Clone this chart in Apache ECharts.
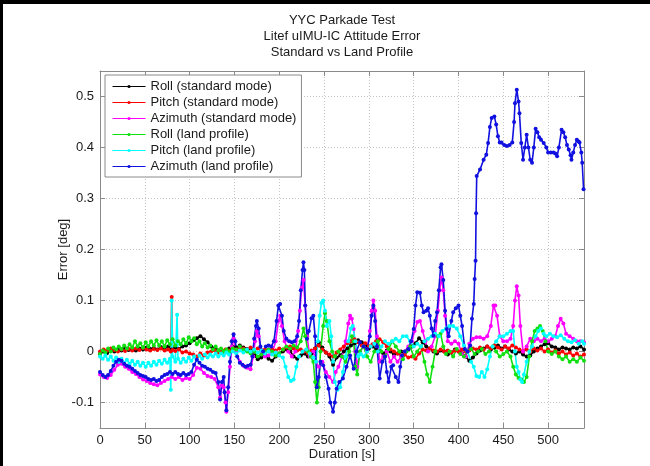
<!DOCTYPE html>
<html><head><meta charset="utf-8">
<script src="https://cdn.jsdelivr.net/npm/echarts@6/dist/echarts.min.js"></script>
<style>html,body{margin:0;padding:0;background:#fff}#c{width:650px;height:466px}</style>
</head><body><div id="c"></div><script>
const titleLines = ['YYC Parkade Test', 'Litef uIMU-IC Attitude Error', 'Standard vs Land Profile'];
const xName = 'Duration [s]';
const yName = 'Error [deg]';
const seriesNames = ['Roll (standard mode)', 'Pitch (standard mode)', 'Azimuth (standard mode)', 'Roll (land profile)', 'Pitch (land profile)', 'Azimuth (land profile)'];
const seriesColors = ['#000000', '#ff0000', '#ff00ff', '#10e010', '#00ffff', '#1010e0'];

const rollStd = [[0,-0.005],[4,0.0],[8,-0.003],[12,0.002],[16,0.0],[20,0.004],[24,0.002],[28,0.006],[32,0.003],[36,0.005],[40,0.002],[44,0.006],[48,0.004],[52,0.008],[56,0.005],[60,0.007],[64,0.004],[68,0.009],[72,0.006],[76,0.01],[80,0.004],[84,0.008],[88,0.005],[92,0.01],[96,0.012],[100,0.016],[104,0.022],[108,0.026],[112,0.03],[116,0.024],[120,0.018],[124,0.01],[128,0.006],[132,0.002],[136,-0.002],[140,0.003],[144,0.006],[148,0.01],[152,0.008],[156,0.012],[160,0.008],[164,0.005],[168,0.002],[172,-0.008],[176,-0.015],[180,-0.012],[184,-0.006],[188,-0.014],[192,-0.018],[196,-0.01],[200,-0.004],[204,0.0],[208,0.004],[212,0.002],[216,-0.01],[220,-0.014],[224,-0.008],[228,-0.004],[232,-0.01],[236,-0.004],[240,0.006],[244,0.018],[248,0.008],[252,-0.002],[256,-0.01],[260,-0.026],[264,-0.012],[268,-0.008],[272,0.0],[276,0.006],[280,0.012],[284,0.016],[288,0.022],[292,0.018],[296,0.012],[300,0.006],[304,0.01],[308,0.004],[312,0.0],[316,-0.004],[320,0.002],[324,0.0],[328,-0.006],[332,-0.004],[336,0.0],[340,-0.002],[344,0.004],[348,0.01],[352,0.016],[356,0.026],[360,0.018],[364,0.01],[368,0.006],[372,0.0],[376,-0.004],[380,0.002],[384,0.0],[388,-0.006],[392,-0.002],[396,0.004],[400,0.0],[404,-0.004],[408,-0.01],[412,-0.018],[416,-0.012],[420,-0.004],[424,0.002],[428,0.006],[432,0.01],[436,0.004],[440,0.008],[444,0.012],[448,0.006],[452,0.01],[456,0.004],[460,0.0],[464,-0.004],[468,0.0],[472,-0.006],[476,-0.01],[480,-0.008],[484,0.0],[488,0.006],[492,0.01],[496,0.014],[500,0.016],[504,0.01],[508,0.008],[512,0.004],[516,0.008],[520,0.006],[524,0.004],[528,0.008],[532,0.006],[536,0.01],[540,0.004]];

const pitchStd = [[0,0.0],[4,0.004],[8,0.002],[12,0.006],[16,0.003],[20,0.0],[24,0.004],[28,0.001],[32,0.005],[36,0.002],[40,0.006],[44,0.003],[48,0.007],[52,0.004],[56,0.002],[60,0.005],[64,0.003],[68,0.006],[72,0.002],[76,0.004],[79,0.0],[80,0.107],[81,0.003],[84,0.001],[88,0.004],[92,-0.002],[96,0.0],[100,-0.004],[104,-0.006],[108,-0.01],[112,-0.004],[116,-0.008],[120,-0.002],[124,0.0],[128,0.002],[132,-0.002],[136,0.0],[140,0.004],[144,0.002],[148,0.006],[152,0.004],[156,0.008],[160,0.006],[164,0.004],[168,0.008],[172,0.004],[176,0.006],[180,0.002],[184,0.004],[188,0.0],[192,0.004],[196,0.002],[200,0.006],[204,0.004],[208,0.008],[212,0.01],[216,0.006],[220,0.002],[224,0.004],[228,0.0],[232,-0.004],[236,0.002],[240,0.006],[244,0.012],[248,0.004],[252,-0.002],[256,-0.006],[260,-0.01],[264,-0.002],[268,0.004],[272,0.01],[276,0.016],[280,0.02],[284,0.024],[288,0.018],[292,0.012],[296,0.016],[300,0.01],[304,0.014],[308,0.02],[312,0.024],[316,0.018],[320,0.01],[324,0.004],[328,0.0],[332,-0.004],[336,-0.008],[340,-0.006],[344,-0.012],[348,-0.01],[352,-0.014],[356,-0.004],[360,0.004],[364,0.002],[368,0.006],[372,0.002],[376,0.0],[380,0.004],[384,0.0],[388,0.002],[392,-0.002],[396,0.002],[400,0.0],[404,0.004],[408,0.0],[412,0.002],[416,0.006],[420,0.004],[424,0.008],[428,0.004],[432,0.01],[436,0.006],[440,0.012],[444,0.008],[448,0.004],[452,0.01],[456,0.006],[460,0.012],[464,0.008],[468,0.004],[472,0.0],[476,0.004],[480,0.0],[484,0.006],[488,0.002],[492,0.006],[496,0.0],[500,0.004],[504,-0.002],[508,0.002],[512,-0.004],[516,0.0],[520,-0.006],[524,-0.002],[528,-0.008],[532,-0.004],[536,-0.01],[540,-0.006]];

const azimuthStd = [[0,-0.045],[4,-0.05],[8,-0.052],[12,-0.046],[16,-0.036],[20,-0.026],[24,-0.024],[28,-0.03],[32,-0.034],[36,-0.04],[40,-0.044],[44,-0.05],[48,-0.055],[52,-0.058],[56,-0.062],[60,-0.064],[64,-0.066],[68,-0.062],[72,-0.058],[76,-0.054],[80,-0.05],[84,-0.054],[88,-0.05],[92,-0.056],[96,-0.052],[100,-0.054],[104,-0.046],[108,-0.032],[112,-0.034],[116,-0.042],[120,-0.048],[124,-0.05],[128,-0.054],[132,-0.07],[134,-0.09],[136,-0.066],[138,-0.07],[140,-0.1],[141,-0.118],[143,-0.08],[145,-0.03],[147,0.01],[149,0.025],[152,0.0],[156,-0.02],[160,-0.028],[164,-0.032],[168,-0.035],[171,-0.01],[173,0.02],[175,0.04],[177,0.03],[180,-0.005],[184,-0.01],[188,-0.008],[192,-0.004],[196,0.02],[199,0.06],[201,0.07],[203,0.05],[206,0.02],[210,0.0],[214,-0.01],[218,0.0],[221,0.04],[223,0.08],[225,0.125],[227,0.14],[229,0.09],[231,0.03],[234,-0.01],[238,0.0],[241,-0.02],[244,-0.03],[248,-0.02],[252,-0.04],[256,-0.05],[260,-0.06],[263,-0.04],[266,-0.03],[270,-0.01],[274,0.02],[277,0.055],[279,0.07],[281,0.064],[283,0.044],[285,0.0],[287,-0.03],[290,0.0],[294,0.01],[298,0.0],[301,0.04],[303,0.08],[305,0.1],[307,0.08],[309,0.03],[312,-0.02],[316,-0.01],[320,0.0],[324,-0.02],[328,-0.01],[332,-0.02],[336,-0.01],[340,0.0],[344,0.01],[348,0.02],[351,0.04],[354,0.058],[357,0.06],[360,0.04],[363,0.02],[366,0.0],[370,0.01],[374,0.03],[377,0.08],[379,0.12],[381,0.145],[383,0.12],[385,0.07],[388,0.02],[392,0.015],[396,0.02],[400,0.015],[404,-0.005],[408,-0.01],[412,0.015],[416,0.025],[420,0.028],[424,0.028],[428,0.025],[432,0.03],[436,0.05],[439,0.09],[441,0.09],[443,0.07],[446,0.03],[450,0.02],[454,0.02],[458,0.025],[461,0.05],[463,0.1],[465,0.128],[467,0.11],[469,0.05],[472,0.0],[476,0.01],[480,0.025],[484,0.02],[488,0.025],[492,0.02],[496,0.025],[500,0.02],[504,0.025],[508,0.03],[511,0.05],[514,0.064],[517,0.055],[520,0.035],[524,0.03],[528,0.025],[532,0.02],[536,0.02],[540,0.018]];

const rollLand = [[0,-0.005],[3,0.002],[6,-0.002],[9,0.006],[12,0.0],[15,0.008],[18,0.004],[21,0.01],[24,0.005],[27,0.012],[30,0.006],[33,0.014],[36,0.008],[39,0.02],[42,0.01],[45,0.016],[48,0.008],[51,0.018],[54,0.01],[57,0.02],[60,0.012],[63,0.022],[66,0.012],[69,0.02],[72,0.01],[75,0.022],[78,0.014],[81,0.024],[84,0.012],[87,0.02],[90,0.014],[93,0.024],[96,0.016],[99,0.028],[102,0.02],[105,0.026],[108,0.014],[111,0.02],[114,0.01],[117,0.016],[120,0.008],[123,0.012],[126,0.004],[129,0.01],[132,0.002],[135,0.006],[138,0.0],[141,0.004],[144,0.0],[148,0.006],[152,0.004],[156,0.01],[160,0.004],[164,0.0],[168,-0.004],[172,0.0],[176,-0.01],[180,-0.006],[184,0.0],[188,0.004],[192,0.0],[196,-0.008],[200,-0.004],[204,0.004],[208,0.01],[212,0.006],[216,0.012],[220,0.008],[224,0.02],[227,0.045],[229,0.03],[232,0.0],[235,-0.01],[238,-0.02],[240,-0.06],[242,-0.1],[244,-0.07],[246,0.0],[249,0.05],[251,0.075],[253,0.06],[256,0.02],[259,0.0],[262,-0.01],[266,0.0],[270,-0.01],[274,-0.02],[278,0.0],[281,0.03],[283,0.02],[285,-0.03],[287,-0.045],[290,0.0],[294,0.01],[298,-0.01],[302,-0.02],[306,0.0],[310,0.02],[314,0.0],[318,-0.01],[322,0.005],[326,0.02],[330,0.01],[334,0.0],[338,-0.015],[342,0.0],[346,0.01],[350,-0.01],[354,0.0],[358,0.01],[362,-0.02],[365,-0.045],[368,-0.06],[371,-0.03],[374,0.0],[377,0.03],[380,0.035],[383,0.01],[386,-0.005],[390,0.0],[394,-0.01],[398,0.005],[402,-0.005],[406,-0.01],[410,0.0],[414,0.005],[418,-0.005],[422,0.0],[426,0.005],[430,-0.005],[434,0.0],[438,0.01],[442,0.0],[446,-0.01],[450,-0.005],[454,0.0],[458,-0.01],[461,-0.03],[464,-0.045],[467,-0.052],[470,-0.055],[473,-0.06],[476,-0.05],[479,-0.01],[482,0.02],[485,0.04],[488,0.045],[491,0.05],[494,0.04],[497,0.02],[500,0.0],[504,-0.005],[508,0.0],[512,-0.01],[516,-0.015],[520,-0.01],[524,-0.02],[528,-0.015],[532,-0.02],[536,-0.012],[540,-0.018]];

const pitchLand = [[0,-0.01],[3,-0.014],[6,-0.008],[9,-0.016],[12,-0.01],[15,-0.018],[18,-0.012],[21,-0.02],[24,-0.014],[27,-0.022],[30,-0.016],[33,-0.024],[36,-0.018],[39,-0.026],[42,-0.02],[45,-0.028],[48,-0.022],[51,-0.03],[54,-0.022],[57,-0.028],[60,-0.02],[63,-0.026],[66,-0.018],[69,-0.024],[72,-0.016],[75,-0.022],[78,-0.014],[79,-0.075],[80,0.1],[81,-0.01],[84,-0.02],[86,0.072],[87,-0.014],[90,-0.022],[93,-0.014],[96,-0.02],[99,-0.012],[102,-0.018],[105,-0.01],[108,-0.016],[111,-0.008],[114,-0.014],[117,-0.006],[120,-0.012],[123,-0.006],[126,-0.01],[129,-0.004],[132,-0.01],[135,-0.004],[138,-0.008],[141,-0.002],[144,-0.006],[148,0.0],[152,-0.004],[156,0.002],[160,-0.002],[164,0.004],[168,0.0],[172,0.004],[176,-0.002],[180,0.002],[184,-0.004],[188,0.0],[192,-0.006],[196,-0.002],[200,-0.008],[204,-0.012],[207,-0.03],[210,-0.05],[213,-0.058],[216,-0.055],[219,-0.03],[222,-0.01],[226,0.0],[230,0.004],[234,-0.004],[238,-0.012],[241,-0.02],[243,0.02],[245,0.07],[247,0.095],[249,0.1],[251,0.08],[253,0.05],[256,0.06],[258,0.03],[260,-0.02],[262,-0.06],[265,-0.075],[268,-0.07],[271,-0.04],[274,-0.01],[277,0.02],[280,0.045],[282,0.05],[285,0.02],[288,-0.01],[291,-0.005],[294,-0.01],[298,0.0],[302,0.01],[306,0.015],[310,0.0],[314,0.01],[318,0.02],[322,0.015],[326,0.02],[330,0.025],[334,0.02],[338,0.03],[342,0.03],[346,0.02],[350,0.01],[354,0.015],[358,0.01],[362,0.02],[366,0.025],[370,0.03],[374,0.035],[378,0.03],[382,0.04],[386,0.045],[390,0.05],[394,0.05],[398,0.045],[402,0.03],[406,0.012],[410,0.0],[414,-0.02],[417,-0.03],[420,-0.048],[423,-0.05],[426,-0.04],[429,-0.05],[432,-0.035],[435,-0.01],[438,0.01],[442,0.02],[446,0.03],[450,0.03],[454,0.035],[458,0.04],[461,0.04],[463,0.0],[465,-0.03],[467,-0.04],[469,-0.055],[471,-0.06],[473,-0.045],[476,-0.02],[479,0.0],[482,0.01],[486,0.03],[489,0.04],[492,0.045],[495,0.035],[498,0.03],[502,0.035],[506,0.03],[510,0.028],[514,0.032],[518,0.025],[522,0.02],[526,0.018],[530,0.022],[534,0.015],[538,0.02],[540,0.015]];

const azimuthLand = [[0,-0.04],[3,-0.046],[6,-0.05],[9,-0.046],[12,-0.038],[15,-0.028],[18,-0.02],[21,-0.016],[24,-0.018],[27,-0.024],[30,-0.028],[33,-0.03],[36,-0.034],[39,-0.038],[42,-0.042],[45,-0.046],[48,-0.048],[51,-0.05],[54,-0.054],[57,-0.056],[60,-0.054],[63,-0.058],[66,-0.056],[69,-0.05],[72,-0.046],[75,-0.044],[78,-0.04],[81,-0.044],[84,-0.04],[87,-0.044],[90,-0.046],[93,-0.042],[96,-0.046],[99,-0.044],[102,-0.04],[105,-0.026],[108,-0.016],[111,-0.022],[114,-0.028],[117,-0.03],[120,-0.034],[123,-0.036],[126,-0.04],[129,-0.042],[132,-0.06],[134,-0.094],[136,-0.06],[138,-0.05],[139,-0.08],[141,-0.115],[143,-0.07],[145,-0.02],[147,0.02],[149,0.034],[151,0.02],[153,-0.01],[156,-0.022],[159,-0.026],[162,-0.03],[165,-0.028],[168,-0.026],[170,-0.01],[172,0.025],[174,0.05],[175,0.06],[177,0.045],[179,0.01],[182,0.0],[185,0.01],[188,0.012],[191,0.01],[194,0.02],[197,0.06],[199,0.09],[201,0.093],[203,0.07],[205,0.04],[208,0.025],[211,0.02],[214,0.018],[217,0.02],[220,0.03],[222,0.06],[224,0.12],[226,0.16],[227,0.175],[228,0.16],[229,0.09],[231,0.025],[233,0.04],[236,0.065],[238,0.07],[240,0.03],[242,-0.07],[244,-0.05],[246,-0.02],[249,-0.027],[252,-0.05],[255,-0.073],[257,-0.1],[260,-0.118],[262,-0.1],[264,-0.073],[267,-0.06],[271,-0.053],[275,-0.03],[279,-0.008],[283,-0.034],[286,0.0],[290,0.018],[294,0.01],[298,0.005],[301,0.03],[303,0.07],[305,0.09],[307,0.06],[309,0.01],[312,-0.053],[315,-0.02],[318,-0.01],[320,-0.04],[322,-0.06],[325,-0.03],[327,-0.027],[330,-0.05],[333,-0.06],[335,-0.03],[337,-0.008],[340,0.0],[344,0.005],[347,0.02],[350,0.044],[352,0.09],[354,0.116],[357,0.115],[359,0.09],[361,0.077],[364,0.08],[366,0.085],[368,0.07],[370,0.045],[372,0.031],[374,0.06],[376,0.077],[378,0.12],[380,0.165],[381,0.171],[383,0.14],[385,0.08],[387,0.044],[389,0.03],[392,0.06],[394,0.077],[397,0.085],[400,0.09],[402,0.07],[404,0.05],[407,0.005],[410,0.0],[413,0.012],[415,0.064],[417,0.093],[418,0.142],[419,0.178],[419.6,0.271],[420.3,0.344],[424,0.357],[428,0.376],[431,0.386],[433,0.409],[435,0.44],[437,0.458],[440,0.461],[442,0.445],[444,0.422],[446,0.41],[448,0.41],[451,0.405],[454,0.403],[457,0.405],[460,0.41],[462,0.45],[463,0.487],[465,0.513],[467,0.49],[468,0.467],[470,0.409],[472,0.376],[474,0.4],[476,0.425],[478,0.4],[480,0.376],[482,0.37],[484,0.4],[486,0.437],[488,0.43],[490,0.42],[492,0.415],[495,0.409],[498,0.4],[500,0.39],[503,0.39],[506,0.39],[508,0.388],[510,0.383],[512,0.4],[515,0.435],[517,0.43],[519,0.42],[521,0.405],[523,0.396],[525,0.385],[526,0.376],[528,0.39],[530,0.405],[532,0.415],[534,0.412],[535,0.41],[537,0.39],[538,0.37],[539.5,0.318]];

const seriesData = [rollStd, pitchStd, azimuthStd, rollLand, pitchLand, azimuthLand];
const xMin = 0, xMax = 540, xStep = 50;
const yMin = -0.15, yMax = 0.55, ySplits = 7;

const FONT = 'Arial, "Liberation Sans", sans-serif';
const axisGray = '#8a8a8a';
const textCol = '#1a1a1a';
const gridLine = {show: true, lineStyle: {color: '#c4c4c4', type: [1, 2], width: 1}};

const chart = echarts.init(document.getElementById('c'), null, {renderer: 'canvas'});

function xAx(pos, main) {
  return {
    type: 'value', position: pos, min: xMin, max: xMax, interval: xStep,
    axisLine: {show: true, onZero: false, lineStyle: {color: axisGray, width: 1}},
    axisTick: {show: true, inside: true, length: 5, lineStyle: {color: axisGray}},
    axisLabel: {show: main, color: textCol, fontSize: 13, fontFamily: FONT, margin: 6, showMaxLabel: false, showMinLabel: true},
    splitLine: main ? gridLine : {show: false},
    name: main ? xName : '', nameLocation: 'middle', nameGap: 20, nameMoveOverlap: false,
    nameTextStyle: {color: textCol, fontSize: 13, fontFamily: FONT}
  };
}
function yAx(pos, main) {
  return {
    type: 'value', position: pos, min: yMin, max: yMax, splitNumber: ySplits,
    axisLine: {show: true, onZero: false, lineStyle: {color: axisGray, width: 1}},
    axisTick: {show: true, inside: true, length: 5, lineStyle: {color: axisGray}},
    axisLabel: {show: main, color: textCol, fontSize: 13, fontFamily: FONT, margin: 6, showMaxLabel: false, showMinLabel: false},
    splitLine: main ? gridLine : {show: false},
    name: main ? yName : '', nameLocation: 'middle', nameGap: 30, nameRotate: 90, nameMoveOverlap: false,
    nameTextStyle: {color: textCol, fontSize: 13, fontFamily: FONT}
  };
}

const series = seriesData.map((d, i) => ({
  name: seriesNames[i], type: 'line', data: d,
  xAxisIndex: 0, yAxisIndex: 0,
  symbol: 'circle', symbolSize: 4, showSymbol: true, showAllSymbol: true,
  lineStyle: {width: 1.6, color: seriesColors[i]},
  itemStyle: {color: seriesColors[i]},
  silent: true, clip: true
}));

const graphics = [
  {type: 'rect', shape: {x: 0, y: 0, width: 3, height: 466}, style: {fill: '#000'}, z: 100},
  {type: 'rect', shape: {x: 0, y: 0, width: 650, height: 4}, style: {fill: '#000'}, z: 100}
];
const titleY = [20, 36, 52];
titleLines.forEach((t, i) => {
  graphics.push({type: 'text', x: 342, y: titleY[i], z: 100,
    style: {text: t, align: 'center', verticalAlign: 'middle', textAlign: 'center', textVerticalAlign: 'middle',
      font: '13px ' + FONT, fill: textCol}});
});

chart.setOption({
  animation: false,
  backgroundColor: '#ffffff',
  grid: {left: 100, right: 66, top: 71, bottom: 37, containLabel: false},
  xAxis: [xAx('bottom', true), xAx('top', false)],
  yAxis: [yAx('left', true), yAx('right', false)],
  legend: {
    orient: 'vertical', left: 105, top: 75, itemWidth: 33, itemHeight: 4, itemGap: 3,
    padding: [5, 5, 4, 7], borderColor: '#8a8a8a', borderWidth: 1, backgroundColor: '#ffffff',
    lineStyle: {width: 1}, itemStyle: {borderWidth: 0},
    textStyle: {fontSize: 13, color: textCol, fontFamily: FONT},
    data: seriesNames, selectedMode: false
  },
  series: series,
  graphic: graphics
});
</script></body></html>
